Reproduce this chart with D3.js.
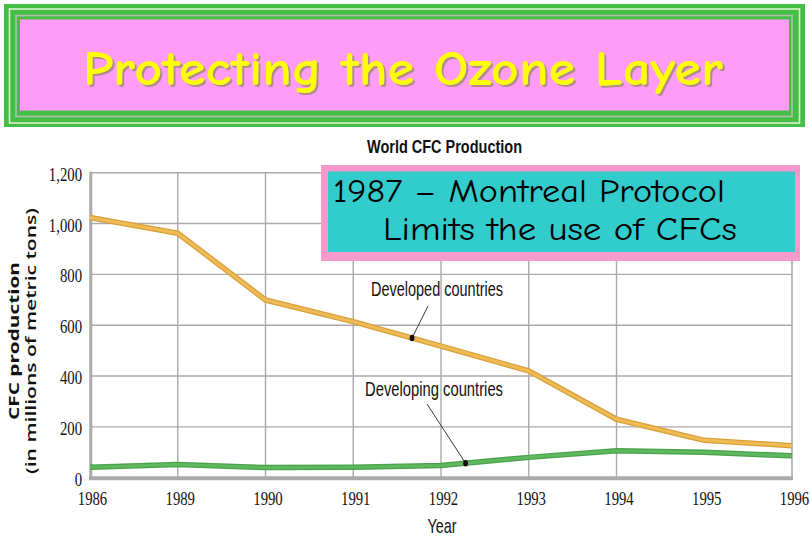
<!DOCTYPE html>
<html>
<head>
<meta charset="utf-8">
<script src="https://cdn.jsdelivr.net/npm/d3@7"></script>
<style>
  body { margin: 0; background: #ffffff; }
  svg { display: block; }
</style>
</head>
<body>
<div id="chart"></div>
<script>
// Define data
let years = ["1986", "1989", "1990", "1991", "1992", "1993", "1994", "1995", "1996"];
let developed = [1024, 962, 699, 614, 518, 420, 230, 147, 126];
let developing = [41, 52, 40, 41, 48, 80, 106, 100, 86];
let y_ticks = [0, 200, 400, 600, 800, 1000, 1200];
let grid_years = ["1989", "1990", "1991", "1992", "1993", "1994"];

let comic = "'Comic Sans MS', 'Comic Neue', 'DejaVu Sans', sans-serif";
let narrow = "'Liberation Sans Narrow', 'Liberation Sans', Arial, sans-serif";
let serif = "'Liberation Serif', 'Times New Roman', serif";

function BuildGraph(){
  let svg = d3.select('#chart')
    .append('svg')
    .attr('width', 810)
    .attr('height', 540);

  // Drop shadow for the banner title
  let shadow = svg.append('defs').append('filter')
    .attr('id', 'shadow')
    .attr('x', '-5%').attr('y', '-20%').attr('width', '110%').attr('height', '140%');
  shadow.append('feDropShadow')
    .attr('dx', 2).attr('dy', 2).attr('stdDeviation', 0.6)
    .attr('flood-color', '#a08870').attr('flood-opacity', 0.85);

  // Title banner
  let banner = svg.append('g');
  banner.append('rect')
    .attr('x', 4).attr('y', 4).attr('width', 801).attr('height', 123)
    .attr('fill', '#44bf44');
  banner.append('rect')
    .attr('x', 9.5).attr('y', 9).attr('width', 790).attr('height', 114)
    .attr('fill', 'none').attr('stroke', '#d9f2d0').attr('stroke-width', 1.6);
  banner.append('rect')
    .attr('x', 16).attr('y', 15.5).attr('width', 776).attr('height', 101)
    .attr('fill', 'none').attr('stroke', '#b4bcb4').attr('stroke-width', 1.6);
  banner.append('rect')
    .attr('x', 20).attr('y', 19.5).attr('width', 769).attr('height', 91)
    .attr('fill', '#ff9cf7');
  banner.append('text')
    .attr('x', 83).attr('y', 85)
    .attr('textLength', 640).attr('lengthAdjust', 'spacingAndGlyphs')
    .style('font-family', comic).style('font-size', '48px').style('font-weight', 'bold')
    .attr('fill', '#ffff00')
    .attr('filter', 'url(#shadow)')
    .text('Protecting the Ozone Layer');

  // Scales
  let x_scale = d3.scalePoint()
    .domain(years)
    .range([90, 792]);
  let y_scale = d3.scaleLinear()
    .domain([0, 1200])
    .range([477.7, 172.7]);

  // Gridlines
  svg.append('g').selectAll('line')
    .data(y_ticks.filter((d) => d > 0))
    .enter().append('line')
    .attr('x1', 90).attr('x2', 792)
    .attr('y1', (d) => y_scale(d)).attr('y2', (d) => y_scale(d))
    .attr('stroke', '#aaaaaa').attr('stroke-width', 1.4);
  svg.append('g').selectAll('line')
    .data(grid_years)
    .enter().append('line')
    .attr('x1', (d) => x_scale(d)).attr('x2', (d) => x_scale(d))
    .attr('y1', y_scale(1200)).attr('y2', y_scale(0))
    .attr('stroke', '#aaaaaa').attr('stroke-width', 1.4);
  svg.append('line')
    .attr('x1', x_scale("1996")).attr('x2', x_scale("1996"))
    .attr('y1', y_scale(1200)).attr('y2', y_scale(0))
    .attr('stroke', '#aaaaaa').attr('stroke-width', 1.6);

  // Axes
  let y_axis = d3.axisLeft(y_scale)
    .tickValues(y_ticks)
    .tickSize(0)
    .tickPadding(0)
    .tickFormat(d3.format(","));
  let gy = svg.append('g')
    .attr('transform', 'translate(90,0)')
    .call(y_axis);
  gy.select('.domain').remove();
  gy.selectAll('text')
    .attr('x', 0)
    .attr('dy', '0.42em')
    .attr('transform', 'translate(-8,0) scale(0.82,1)')
    .style('font-family', serif)
    .style('font-size', '18px')
    .attr('fill', '#111');

  let x_axis = d3.axisBottom(x_scale)
    .tickSize(0)
    .tickPadding(15);
  let gx = svg.append('g')
    .attr('transform', 'translate(2,' + y_scale(0) + ')')
    .call(x_axis);
  gx.select('.domain').remove();
  gx.selectAll('text')
    .attr('transform', 'scale(0.82,1)')
    .style('font-family', serif)
    .style('font-size', '18px')
    .attr('fill', '#111');

  svg.append('line')
    .attr('x1', 90.8).attr('x2', 90.8)
    .attr('y1', y_scale(1200) - 1).attr('y2', y_scale(0) + 2)
    .attr('stroke', '#aaaaaa').attr('stroke-width', 3);
  svg.append('line')
    .attr('x1', 89).attr('x2', 793)
    .attr('y1', y_scale(0) + 0.5).attr('y2', y_scale(0) + 0.5)
    .attr('stroke', '#aaaaaa').attr('stroke-width', 4);

  // Lines
  let line = d3.line()
    .x((d, i) => x_scale(years[i]))
    .y((d) => y_scale(d));
  svg.append('path').datum(developed)
    .attr('d', line).attr('fill', 'none')
    .attr('stroke', '#d9a03a').attr('stroke-width', 5.5).attr('stroke-linejoin', 'round');
  svg.append('path').datum(developed)
    .attr('d', line).attr('fill', 'none')
    .attr('stroke', '#efbb55').attr('stroke-width', 3).attr('stroke-linejoin', 'round');
  svg.append('path').datum(developing)
    .attr('d', line).attr('fill', 'none')
    .attr('stroke', '#4aa24a').attr('stroke-width', 5.5).attr('stroke-linejoin', 'round');
  svg.append('path').datum(developing)
    .attr('d', line).attr('fill', 'none')
    .attr('stroke', '#5fb85f').attr('stroke-width', 3).attr('stroke-linejoin', 'round');

  // Annotation dots and leaders
  function pointAt(values, i, t){
    let x = x_scale(years[i]) + t * (x_scale(years[i + 1]) - x_scale(years[i]));
    let y = y_scale(values[i] + t * (values[i + 1] - values[i]));
    return [x, y];
  }
  let p1 = pointAt(developed, 3, 0.67);
  let p2 = pointAt(developing, 4, 0.28);

  svg.append('line')
    .attr('x1', 428).attr('y1', 306)
    .attr('x2', p1[0]).attr('y2', p1[1])
    .attr('stroke', '#222').attr('stroke-width', 0.9);
  svg.append('ellipse')
    .attr('cx', p1[0]).attr('cy', p1[1]).attr('rx', 2.4).attr('ry', 3.2)
    .attr('fill', '#111');
  svg.append('line')
    .attr('x1', 427).attr('y1', 404)
    .attr('x2', p2[0]).attr('y2', p2[1])
    .attr('stroke', '#222').attr('stroke-width', 0.9);
  svg.append('ellipse')
    .attr('cx', p2[0]).attr('cy', p2[1]).attr('rx', 2.4).attr('ry', 3.2)
    .attr('fill', '#111');

  svg.append('text')
    .attr('x', 371).attr('y', 296)
    .attr('textLength', 132).attr('lengthAdjust', 'spacingAndGlyphs')
    .style('font-family', narrow).style('font-size', '21px')
    .attr('fill', '#111')
    .text('Developed countries');
  svg.append('text')
    .attr('x', 365).attr('y', 396)
    .attr('textLength', 138).attr('lengthAdjust', 'spacingAndGlyphs')
    .style('font-family', narrow).style('font-size', '21px')
    .attr('fill', '#111')
    .text('Developing countries');

  // Chart title and axis titles
  svg.append('text')
    .attr('x', 367).attr('y', 153)
    .attr('textLength', 155).attr('lengthAdjust', 'spacingAndGlyphs')
    .style('font-family', narrow).style('font-size', '19px').style('font-weight', 'bold')
    .attr('fill', '#111')
    .text('World CFC Production');

  svg.append('text')
    .attr('x', 442).attr('y', 533)
    .attr('text-anchor', 'middle')
    .attr('textLength', 29).attr('lengthAdjust', 'spacingAndGlyphs')
    .style('font-family', narrow).style('font-size', '21px')
    .attr('fill', '#111')
    .text('Year');

  svg.append('text')
    .attr('transform', 'translate(19,341)rotate(-90)')
    .attr('text-anchor', 'middle')
    .attr('textLength', 158).attr('lengthAdjust', 'spacingAndGlyphs')
    .style('font-family', "'Open Sans', 'DejaVu Sans', sans-serif")
    .style('font-size', '15px').style('font-weight', 'bold')
    .attr('fill', '#111')
    .text('CFC production');
  svg.append('text')
    .attr('transform', 'translate(36,341)rotate(-90)')
    .attr('text-anchor', 'middle')
    .attr('textLength', 266).attr('lengthAdjust', 'spacingAndGlyphs')
    .style('font-family', "'Open Sans', 'DejaVu Sans', sans-serif")
    .style('font-size', '15px').style('font-weight', '600')
    .attr('fill', '#111')
    .text('(in millions of metric tons)');

  // Montreal Protocol box
  let note = svg.append('g');
  note.append('rect')
    .attr('x', 321).attr('y', 165).attr('width', 479).attr('height', 96)
    .attr('fill', '#f79acb');
  note.append('rect')
    .attr('x', 328).attr('y', 171.5).attr('width', 467).attr('height', 80.5)
    .attr('fill', '#33cccc');
  note.append('text')
    .attr('x', 333).attr('y', 202)
    .attr('textLength', 392).attr('lengthAdjust', 'spacingAndGlyphs')
    .style('font-family', comic).style('font-size', '33px')
    .attr('fill', '#000')
    .text('1987 \u2013 Montreal Protocol');
  note.append('text')
    .attr('x', 383).attr('y', 240)
    .attr('textLength', 354).attr('lengthAdjust', 'spacingAndGlyphs')
    .style('font-family', comic).style('font-size', '33px')
    .attr('fill', '#000')
    .text('Limits the use of CFCs');
}

document.addEventListener('DOMContentLoaded', function(){
  BuildGraph();
});
</script>
</body>
</html>
